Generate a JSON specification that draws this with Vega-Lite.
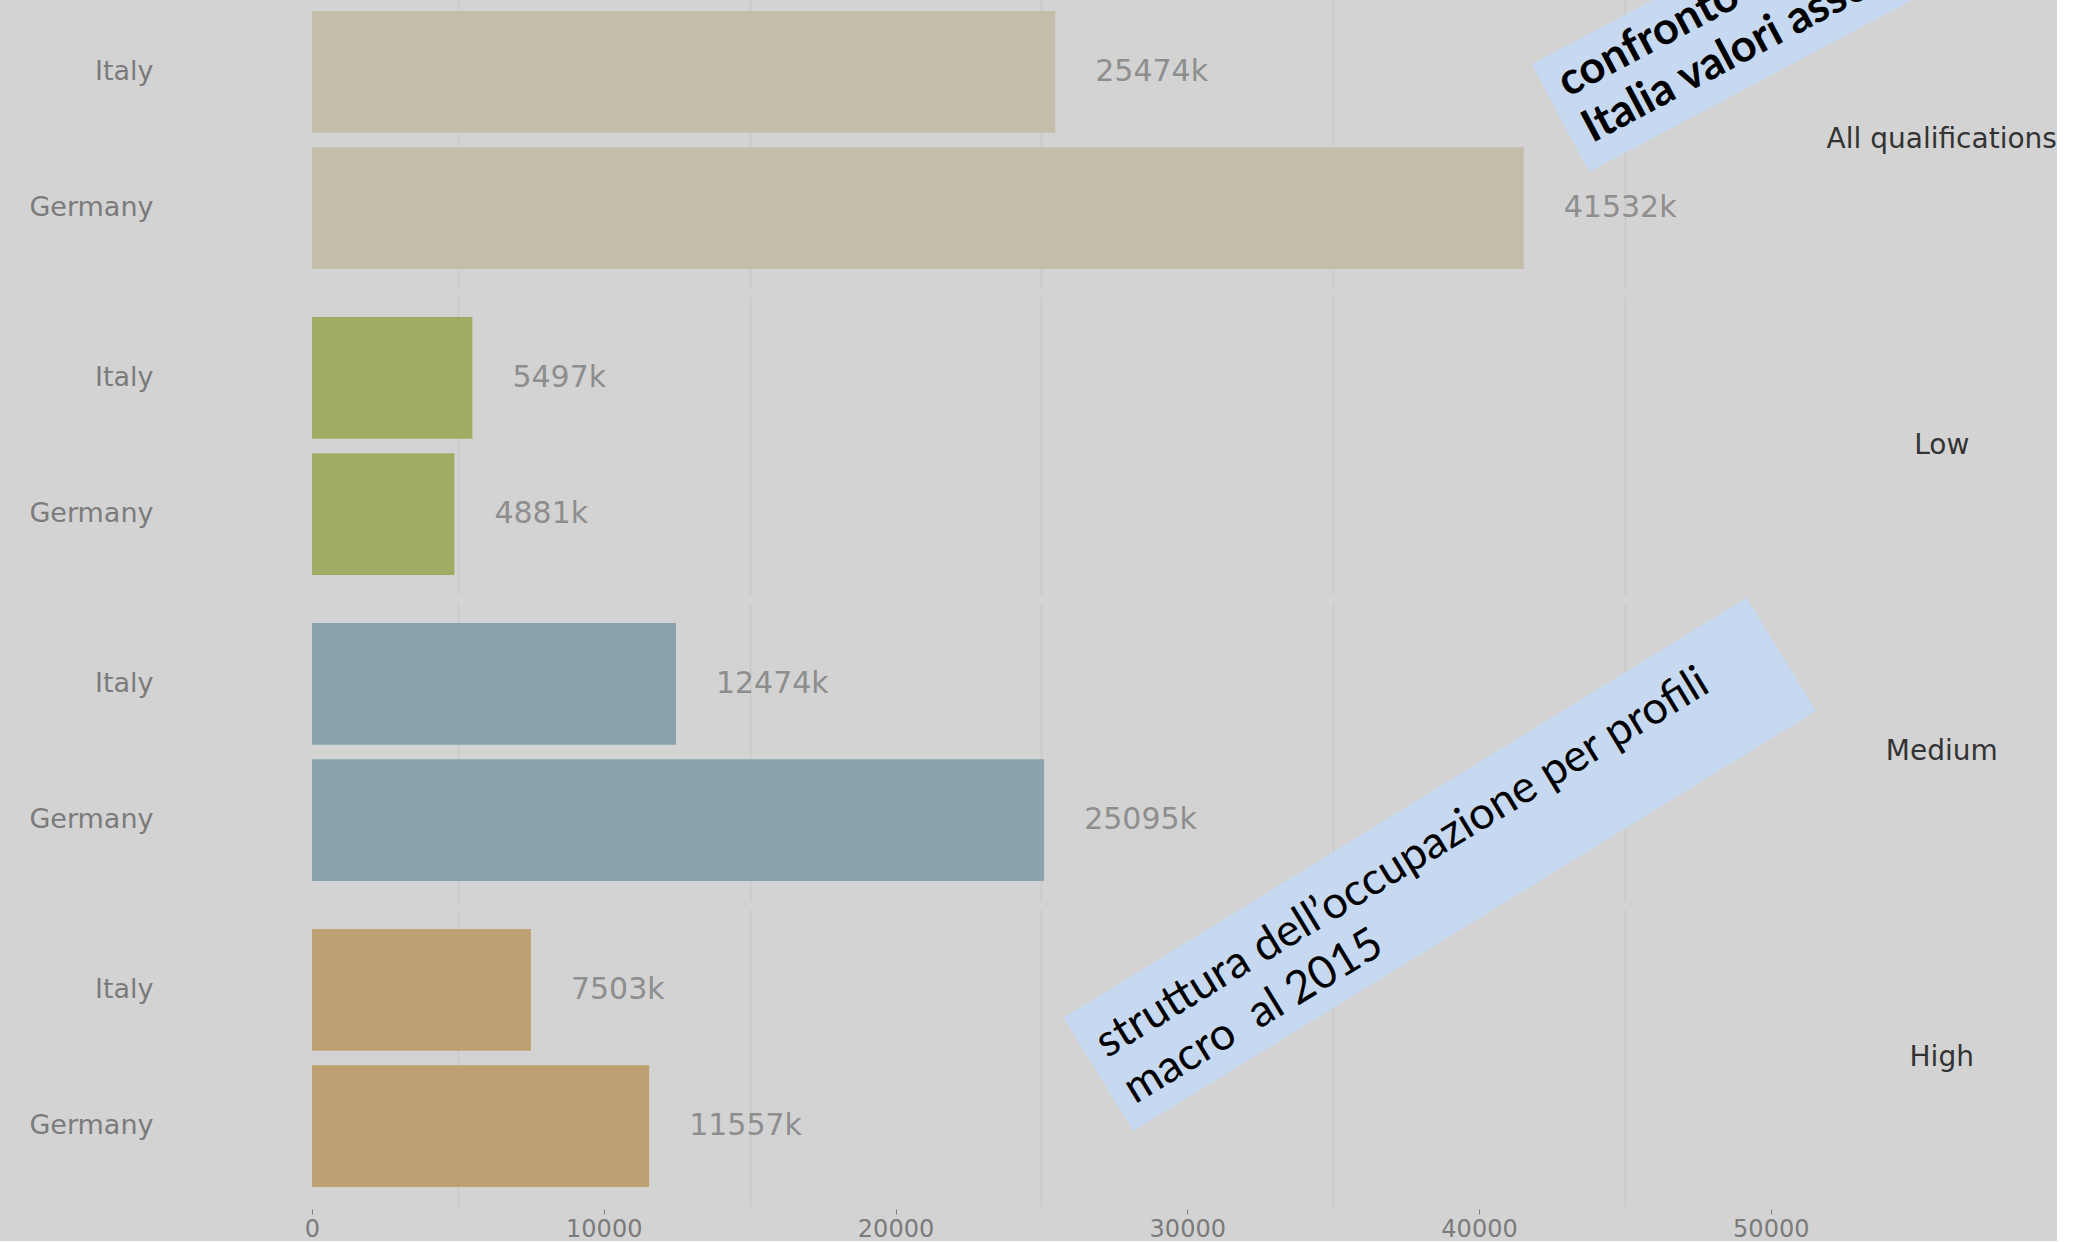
{
  "$schema": "https://vega.github.io/schema/vega-lite/v6.json",
  "background": "#d3d3d3",
  "padding": {"left": 28, "top": -9, "right": 0, "bottom": 0},
  "bounds": "flush",
  "data": {
    "values": [
      {"qual": "All qualifications", "country": "Italy", "value": 25474, "label": "25474k"},
      {"qual": "All qualifications", "country": "Germany", "value": 41532, "label": "41532k"},
      {"qual": "Low", "country": "Italy", "value": 5497, "label": "5497k"},
      {"qual": "Low", "country": "Germany", "value": 4881, "label": "4881k"},
      {"qual": "Medium", "country": "Italy", "value": 12474, "label": "12474k"},
      {"qual": "Medium", "country": "Germany", "value": 25095, "label": "25095k"},
      {"qual": "High", "country": "Italy", "value": 7503, "label": "7503k"},
      {"qual": "High", "country": "Germany", "value": 11557, "label": "11557k"}
    ]
  },
  "facet": {
    "row": {"field": "qual", "type": "nominal", "sort": ["All qualifications", "Low", "Medium", "High"], "header": null}
  },
  "spacing": 8,
  "spec": {
    "width": 1663,
    "height": 298,
    "layer": [
      {
        "mark": {"type": "bar"},
        "encoding": {
          "y": {
            "field": "country", "type": "nominal", "sort": ["Italy", "Germany"],
            "scale": {"domain": ["Italy", "Germany"], "paddingInner": 0.107, "paddingOuter": 0.147},
            "axis": {"title": null, "domain": false, "ticks": false, "grid": false, "labelPadding": 159, "labelFont": "DejaVu Sans", "labelFontSize": 27, "labelColor": "#7b7b7b"}
          },
          "x": {
            "field": "value", "type": "quantitative",
            "scale": {"domain": [0, 57000], "nice": false, "zero": true},
            "axis": {
              "title": null,
              "values": [0, 5000, 10000, 15000, 20000, 25000, 30000, 35000, 40000, 45000, 50000],
              "format": "d",
              "labelExpr": "datum.value % 10000 === 0 ? datum.label : ''",
              "labelFlush": false,
              "grid": true,
              "gridColor": {"condition": {"test": "datum.value % 10000 === 0", "value": "transparent"}, "value": "#c7c7c7"},
              "gridWidth": 1.3,
              "tickOpacity": {"condition": {"test": "datum.value % 10000 === 0", "value": 1}, "value": 0},
              "tickColor": "#808080",
              "tickSize": 5,
              "domain": false,
              "offset": 2,
              "labelPadding": 3,
              "labelFont": "DejaVu Sans",
              "labelFontSize": 24,
              "labelColor": "#7b7b7b"
            }
          },
          "color": {
            "field": "qual", "type": "nominal",
            "scale": {"domain": ["All qualifications", "Low", "Medium", "High"], "range": ["#c4bda9", "#a0ac63", "#8aa2ab", "#bea072"]},
            "legend": null
          }
        }
      },
      {
        "mark": {"type": "text", "align": "left", "baseline": "middle", "dx": 40, "font": "DejaVu Sans", "fontSize": 30, "color": "#8e8e8e"},
        "encoding": {
          "y": {"field": "country", "type": "nominal", "sort": ["Italy", "Germany"]},
          "x": {"field": "value", "type": "quantitative"},
          "text": {"field": "label"}
        }
      },
      {
        "transform": [{"filter": "datum.country === 'Italy'"}],
        "mark": {"type": "text", "align": "center", "baseline": "middle", "font": "DejaVu Sans", "fontSize": 28, "color": "#333333"},
        "encoding": {
          "x": {"datum": 55860, "type": "quantitative"},
          "y": {"datum": "Italy", "type": "nominal", "bandPosition": 1.06},
          "text": {"field": "qual"}
        }
      },
      {
        "transform": [{"filter": "datum.qual === 'High' && datum.country === 'Italy'"}],
        "mark": {"type": "point", "shape": "M-1,-0.1658L1,-0.1658L1,0.1658L-1,0.1658Z", "size": 642883, "angle": 328.4, "filled": true, "color": "#c6d9f0", "opacity": 1, "strokeWidth": 0},
        "encoding": {
          "x": {"datum": 38657, "type": "quantitative"},
          "y": {"datum": "Italy", "type": "nominal", "bandPosition": -0.531}
        }
      },
      {
        "transform": [{"filter": "datum.qual === 'High' && datum.country === 'Italy'"}],
        "mark": {"type": "text", "text": ["struttura dell’occupazione per profili", "macro \u00a0al 2015"], "align": "left", "baseline": "alphabetic", "angle": -31.3, "font": "Lato", "fontSize": 45, "lineHeight": 54, "color": "#000000"},
        "encoding": {
          "x": {"datum": 27250, "type": "quantitative"},
          "y": {"datum": "Italy", "type": "nominal", "bandPosition": 1.063}
        }
      },
      {
        "transform": [{"filter": "datum.qual === 'All qualifications' && datum.country === 'Italy'"}],
        "mark": {"type": "point", "shape": "M-1,-0.2033L1,-0.2033L1,0.2033L-1,0.2033Z", "size": 360000, "angle": 332, "filled": true, "color": "#c6d9f0", "opacity": 1, "strokeWidth": 0, "clip": true},
        "encoding": {
          "x": {"datum": 51868, "type": "quantitative"},
          "y": {"datum": "Italy", "type": "nominal", "bandPosition": -0.277}
        }
      },
      {
        "transform": [{"filter": "datum.qual === 'All qualifications' && datum.country === 'Italy'"}],
        "mark": {"type": "text", "text": ["confronto Germania", "Italia valori assoluti"], "align": "left", "baseline": "alphabetic", "angle": -28, "font": "Lato", "fontWeight": "bold", "fontSize": 45, "lineHeight": 52, "color": "#000000", "clip": true},
        "encoding": {
          "x": {"datum": 43043, "type": "quantitative"},
          "y": {"datum": "Italy", "type": "nominal", "bandPosition": 0.71}
        }
      }
    ]
  },
  "config": {"view": {"stroke": null}}
}
